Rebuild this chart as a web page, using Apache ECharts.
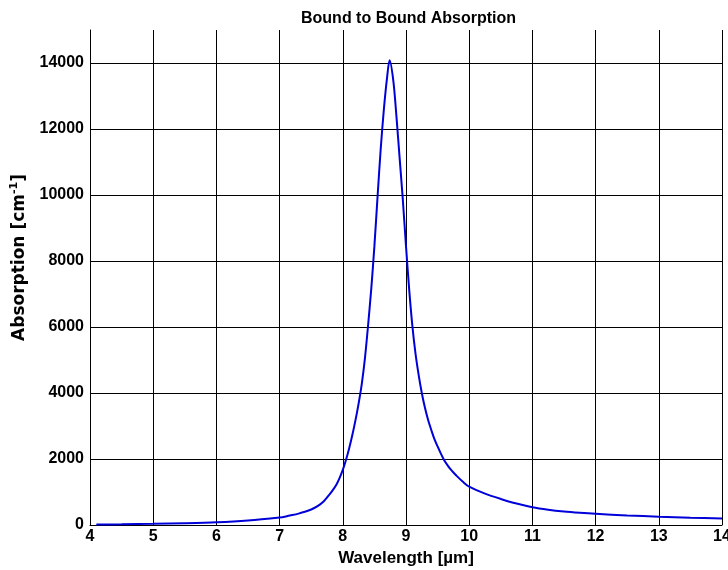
<!DOCTYPE html>
<html><head><meta charset="utf-8">
<script src="https://cdn.jsdelivr.net/npm/echarts@6/dist/echarts.min.js"></script>
<style>html,body{margin:0;padding:0;background:#fff;overflow:hidden}#c{width:728px;height:570px}</style>
</head><body><div id="c"></div>
<script>
const titleText = 'Bound to Bound Absorption';
const xName = 'Wavelength [µm]';
const xMin = 4, xMax = 14, xStep = 1;
const yMin = 0, yMax = 15000, yStep = 2000;
const wavelength = [4.1, 4.5, 5.0, 5.5, 6.0, 6.5, 7.0, 7.1, 7.2, 7.3, 7.4, 7.5, 7.6, 7.7, 7.8, 7.85, 7.9, 7.95, 8.0, 8.05, 8.1, 8.15, 8.2, 8.25, 8.3, 8.35, 8.4, 8.45, 8.5, 8.55, 8.6, 8.65, 8.7, 8.74, 8.8, 8.85, 8.9, 8.95, 9.0, 9.05, 9.1, 9.15, 9.2, 9.25, 9.3, 9.35, 9.4, 9.45, 9.5, 9.55, 9.6, 9.65, 9.7, 9.75, 9.8, 9.9, 10.0, 10.25, 10.5, 10.75, 11.0, 11.25, 11.5, 11.75, 12.0, 12.5, 13.0, 13.5, 14.0];
const absorption = [15, 22, 35, 55, 85, 140, 230, 260, 300, 345, 400, 470, 570, 720, 950, 1080, 1230, 1430, 1670, 1970, 2320, 2720, 3170, 3680, 4270, 5050, 6050, 7150, 8450, 9950, 11400, 12600, 13550, 14080, 13450, 12350, 11100, 9850, 8450, 7150, 6050, 5200, 4550, 4000, 3550, 3180, 2880, 2600, 2380, 2170, 1980, 1830, 1700, 1590, 1490, 1310, 1160, 950, 790, 650, 540, 465, 410, 370, 338, 290, 252, 222, 198];

const font = 'Liberation Sans, Arial, sans-serif';
const wideFont = 'DejaVu Sans, Liberation Sans, sans-serif';
const chart = echarts.init(document.getElementById('c'));
chart.setOption({
  animation: false,
  backgroundColor: '#fff',
  title: {text: titleText, left: 296, top: 6,
    textStyle: {fontFamily: font, fontSize: 16, fontWeight: 'bold', color: '#000'}},
  grid: {left: 90, right: 6, top: 30, bottom: 45, containLabel: false, outerBoundsMode: 'none'},
  xAxis: {type: 'value', min: xMin, max: xMax, interval: xStep,
    name: xName, nameLocation: 'middle', nameGap: 24,
    nameTextStyle: {fontFamily: font, fontSize: 17, fontWeight: 'bold', color: '#000'},
    axisLine: {show: true, lineStyle: {color: '#000', width: 1}},
    axisTick: {show: false},
    axisLabel: {fontFamily: font, fontSize: 16, fontWeight: 'bold', color: '#000', margin: 4,
      formatter: v => String(v)},
    splitLine: {show: true, lineStyle: {color: '#000', width: 1}}},
  yAxis: {type: 'value', min: yMin, max: yMax, interval: yStep,
    name: '{a|Absorption [cm}{s|-1}{a|]}', nameLocation: 'middle', nameGap: 53, nameRotate: 90,
    nameTextStyle: {fontFamily: wideFont, fontSize: 17, fontWeight: 'bold', color: '#000', padding: [0, 0, 0, 40],
      rich: {a: {fontFamily: wideFont, fontSize: 17, fontWeight: 'bold', color: '#000', lineHeight: 22},
             s: {fontFamily: wideFont, fontSize: 11, fontWeight: 'bold', color: '#000', verticalAlign: 'top', lineHeight: 22, padding: [0,0,9,0]}}},
    axisLine: {show: true, lineStyle: {color: '#000', width: 1}},
    axisTick: {show: false},
    axisLabel: {fontFamily: font, fontSize: 16, fontWeight: 'bold', color: '#000', margin: 6, showMaxLabel: false,
      formatter: v => String(v)},
    splitLine: {show: true, showMaxLine: false, lineStyle: {color: '#000', width: 1}}},
  series: [{type: 'line', data: wavelength.map((x, i) => [x, absorption[i]]),
    showSymbol: false, smooth: 0.3, z: 5,
    lineStyle: {color: '#0000d8', width: 2}}]
});
</script></body></html>
